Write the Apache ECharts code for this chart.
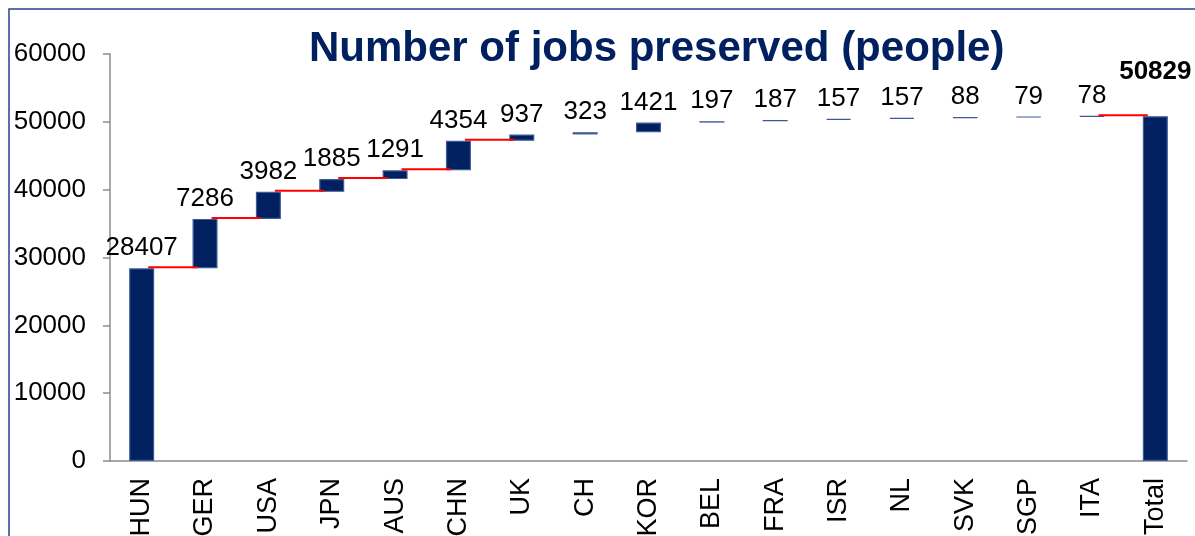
<!DOCTYPE html>
<html>
<head>
<meta charset="utf-8">
<script src="https://cdn.jsdelivr.net/npm/echarts@6/dist/echarts.min.js"></script>
<style>
  html, body { margin: 0; padding: 0; background: #fff; }
  #chart { width: 1195px; height: 536px; }
</style>
</head>
<body>
<div id="chart"></div>
<script>
// Jobs preserved per country, accumulated into a waterfall with a final total
const categories = ['HUN', 'GER', 'USA', 'JPN', 'AUS', 'CHN', 'UK', 'CH', 'KOR',
                    'BEL', 'FRA', 'ISR', 'NL', 'SVK', 'SGP', 'ITA', 'Total'];
const increments = [28407, 7286, 3982, 1885, 1291, 4354, 937, 323, 1421,
                    197, 187, 157, 157, 88, 79, 78];
const totalValue = 50829;
const yTicks = [0, 10000, 20000, 30000, 40000, 50000, 60000];
// steps that get a red connector to the next bar
const connectorSteps = [0, 1, 2, 3, 4, 5, 15];

const NAVY = '#002060';
const FONT = 'Liberation Sans, Arial, sans-serif';
const BAR_W = 25;

// invisible base + visible step for each category
const bases = [];
const steps = [];
let running = 0;
increments.forEach(v => { bases.push(running); steps.push(v); running += v; });
bases.push(0);
steps.push(totalValue);

// cumulative level after each step
const levels = [];
let acc = 0;
increments.forEach(v => { acc += v; levels.push(acc); });

const connectorData = connectorSteps.map(i => [i, levels[i]]);

const chart = echarts.init(document.getElementById('chart'), null, { renderer: 'canvas' });

chart.setOption({
  animation: false,
  backgroundColor: '#ffffff',
  title: {
    text: 'Number of jobs preserved (people)',
    left: 304,
    top: 23,
    textStyle: { fontFamily: FONT, fontSize: 42, fontWeight: 'bold', color: NAVY }
  },
  graphic: [{
    type: 'rect',
    shape: { x: 9, y: 9, width: 1200, height: 540 },
    style: { fill: 'none', stroke: '#24418f', lineWidth: 1.5 },
    silent: true
  }],
  grid: { left: 110, right: 8, top: 54, bottom: 75, outerBoundsMode: 'none', containLabel: false },
  xAxis: {
    type: 'category',
    data: categories,
    axisLine: { lineStyle: { color: '#8c8c8c', width: 1.5 } },
    axisTick: { length: 8, lineStyle: { color: '#8c8c8c', width: 1.5 } },
    axisLabel: { rotate: 90, margin: 17, fontFamily: FONT, fontSize: 27, color: '#000' }
  },
  yAxis: {
    type: 'value',
    min: yTicks[0],
    max: yTicks[yTicks.length - 1],
    interval: yTicks[1] - yTicks[0],
    splitLine: { show: false },
    axisLine: { show: true, lineStyle: { color: '#8c8c8c', width: 1.5 } },
    axisTick: { show: true, length: 7, lineStyle: { color: '#8c8c8c', width: 1.5 } },
    axisLabel: {
      margin: 24,
      fontFamily: FONT,
      fontSize: 26,
      color: '#000',
      formatter: v => String(v)
    }
  },
  series: [
    {
      name: 'base',
      type: 'bar',
      stack: 'wf',
      barWidth: BAR_W,
      silent: true,
      itemStyle: { color: 'transparent' },
      data: bases
    },
    {
      name: 'jobs',
      type: 'bar',
      stack: 'wf',
      barWidth: BAR_W,
      itemStyle: { color: NAVY, borderColor: '#3d5a96', borderWidth: 1.2 },
      label: {
        show: true,
        position: 'top',
        distance: 7,
        fontFamily: FONT,
        fontSize: 26,
        color: '#000'
      },
      data: steps.map((v, i) => i === steps.length - 1
        ? { value: v, label: { fontWeight: 'bold', distance: 31 } }
        : v)
    },
    {
      name: 'connectors',
      type: 'custom',
      silent: true,
      z: 5,
      data: connectorData,
      renderItem: function (params, api) {
        const i = api.value(0);
        const lvl = api.value(1);
        const p1 = api.coord([i, lvl]);
        const p2 = api.coord([i + 1, lvl]);
        const y = p1[1] - 1;
        return {
          type: 'line',
          shape: { x1: p1[0] + BAR_W / 2 - 6, y1: y, x2: p2[0] - BAR_W / 2 + 5, y2: y },
          style: { stroke: '#ff0000', lineWidth: 2 }
        };
      }
    }
  ]
});
</script>
</body>
</html>
